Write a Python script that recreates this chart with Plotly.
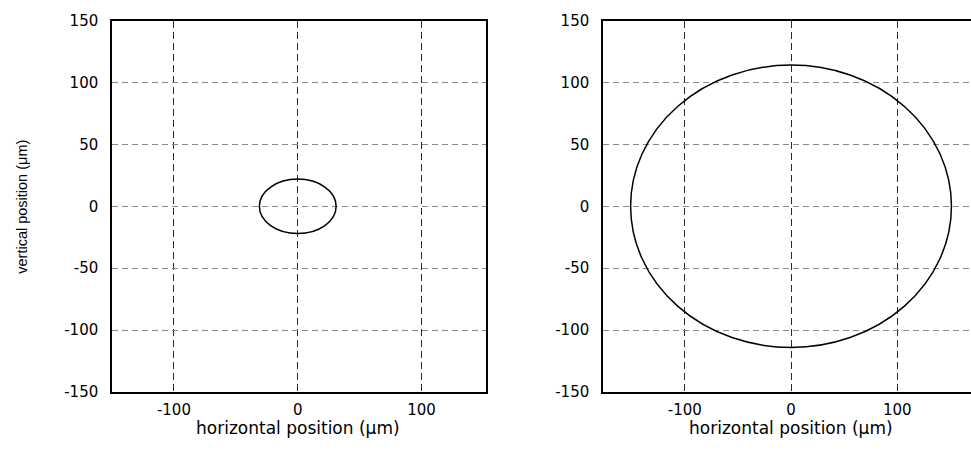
import plotly.graph_objects as go

# Beam spot outlines (ellipses) for the two panels, in micrometres
spot_cx = [0, 0]
spot_cy = [0, 0]
spot_rx = [31, 151]
spot_ry = [22, 114]

# Axis settings
x_ranges = [[-150, 152], [-177, 169.4]]
y_range = [-150, 150]
x_ticks = [-100, 0, 100]
x_tick_text = ["-100", "0", "100"]
y_ticks = [-150, -100, -50, 0, 50, 100, 150]
y_tick_text = ["-150", "-100", "-50", "0", "50", "100", "150"]

x_label = "horizontal position (\u03bcm)"
y_label = "vertical position (\u03bcm)"

W, H = 971, 450
tick_font = dict(family="DejaVu Sans", size=15, color="black")
label_font = dict(family="DejaVu Sans", size=17, color="black")

fig = go.Figure()
fig.add_trace(go.Scatter(x=[], y=[], xaxis="x", yaxis="y", showlegend=False))
fig.add_trace(go.Scatter(x=[], y=[], xaxis="x2", yaxis="y2", showlegend=False))

y_dom = [1 - 399 / H, 1 - 12 / H]
x_doms = [[112 / W, 486 / W], [603 / W, 1.0]]

def xaxis_cfg(i):
    return dict(
        domain=x_doms[i], range=x_ranges[i], anchor="y" if i == 0 else "y2",
        tickvals=x_ticks, ticktext=x_tick_text, ticks="", ticklabelstandoff=3,
        tickfont=tick_font,
        showgrid=True, gridcolor="#2a2a2a", gridwidth=1, griddash="7px,4px",
        zeroline=False, showline=True, linecolor="black", linewidth=1.5,
        mirror=True, fixedrange=True,
    )

def yaxis_cfg(i):
    return dict(
        domain=y_dom, range=y_range, anchor="x" if i == 0 else "x2",
        tickvals=y_ticks, ticktext=y_tick_text, ticks="", ticklabelstandoff=9,
        tickfont=tick_font,
        showgrid=True, gridcolor="#888888", gridwidth=1, griddash="6px,4px",
        zeroline=False, showline=True, linecolor="black", linewidth=1.5,
        mirror=(i == 0), fixedrange=True,
    )

shapes = []
for i in range(2):
    sfx = "" if i == 0 else "2"
    shapes.append(dict(
        type="circle", xref="x" + sfx, yref="y" + sfx,
        x0=spot_cx[i] - spot_rx[i], x1=spot_cx[i] + spot_rx[i],
        y0=spot_cy[i] - spot_ry[i], y1=spot_cy[i] + spot_ry[i],
        line=dict(color="black", width=1.5), layer="above",
    ))

annotations = [
    dict(text=x_label, xref="x", yref="paper", x=0, y=1 - 436 / H,
         xanchor="center", yanchor="middle", showarrow=False, font=label_font,
         borderpad=0),
    dict(text=x_label, xref="x2", yref="paper", x=0, y=1 - 436 / H,
         xanchor="center", yanchor="middle", showarrow=False, font=label_font,
         borderpad=0),
    dict(text=y_label, xref="paper", yref="paper", x=22 / W, y=1 - 206 / H,
         xanchor="center", yanchor="middle", showarrow=False, textangle=-90,
         font=dict(family="Liberation Sans", size=14.5, color="black")),
]

fig.update_layout(
    width=W, height=H,
    margin=dict(l=0, r=0, t=0, b=0),
    paper_bgcolor="white", plot_bgcolor="white",
    xaxis=xaxis_cfg(0), yaxis=yaxis_cfg(0),
    xaxis2=xaxis_cfg(1), yaxis2=yaxis_cfg(1),
    shapes=shapes, annotations=annotations,
    showlegend=False,
)

fig.write_html("out.html", config={"displayModeBar": False})
